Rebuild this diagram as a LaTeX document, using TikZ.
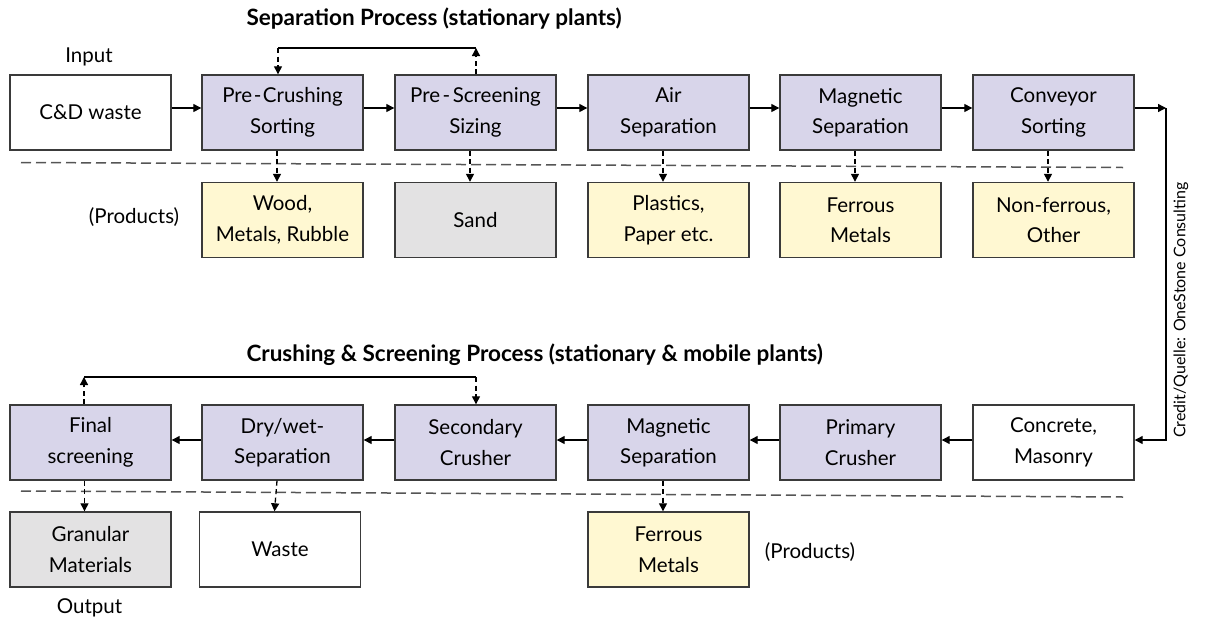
\documentclass[tikz,border=0pt]{standalone}
\usepackage{fontspec}
\setmainfont{Lato}
\usetikzlibrary{arrows.meta}
\definecolor{procfill}{HTML}{D8D5EA}
\definecolor{prodfill}{HTML}{FFF8D2}
\definecolor{sandfill}{HTML}{E3E2E3}
\definecolor{boxline}{HTML}{3A3A3A}
\definecolor{sepline}{HTML}{555555}
\begin{document}
\begin{tikzpicture}[x=1pt,y=-1pt,
  box/.style={draw=boxline,line width=1.4pt,minimum width=161pt,minimum height=75pt,
    inner sep=0pt,align=center,font=\fontsize{20.5}{30.5}\selectfont},
  proc/.style={box,fill=procfill},
  prod/.style={box,fill=prodfill},
  grey/.style={box,fill=sandfill},
  plain/.style={box,fill=white},
  tip/.style={-{Triangle[length=8pt,width=8pt]}},
  flow/.style={line width=1.3pt,tip},
  drop/.style={line width=1.3pt,dash pattern=on 5pt off 3.5pt,tip},
  sep/.style={draw=sepline,line width=1.5pt,dash pattern=on 10pt off 5pt},
  lbl/.style={font=\fontsize{20.5}{30}\selectfont},
  ttl/.style={font=\fontsize{22.5}{26}\selectfont\bfseries,anchor=west}]
\useasboundingbox (0,0) rectangle (1205,624);

% headings and side labels
\node[ttl] (t1) at (243,19) {Separation Process (stationary plants)};
\node[ttl] (t2) at (243,355) {Crushing \& Screening Process (stationary \& mobile plants)};
\node[lbl] (inp) at (89,57) {Input};
\node[lbl] (pr1) at (134,217) {(Products)};
\node[lbl] (outp) at (89.5,608) {Output};
\node[lbl] (pr2) at (810,552) {(Products)};
\node[rotate=90,font=\fontsize{16}{18}\selectfont] (cred) at (1181,310) {Credit/Quelle: OneStone Consulting};

% separation process
\node[plain] (cd) at (90.5,112.5) {C\&D waste};
\node[proc] (pc) at (282.5,112.5) {Pre\kern1.5pt-\kern1.5pt Crushing\\Sorting};
\node[proc] (ps) at (475.5,112.5) {Pre\kern2.5pt-\kern2.5pt Screening\\Sizing};
\node[proc] (as) at (668.5,112.5) {Air\\Separation};
\node[proc] (ms) at (860.5,112.5) {Magnetic\\Separation};
\node[proc] (cs) at (1053.5,112.5) {Conveyor\\Sorting};

\node[prod] (wood) at (282.5,220) {Wood,\\Metals, Rubble};
\node[grey] (sand) at (475.5,220) {Sand};
\node[prod] (plas) at (668.5,220) {Plastics,\\Paper etc.};
\node[prod] (fer1) at (860.5,220) {Ferrous\\Metals};
\node[prod] (nonf) at (1053.5,220) {Non-ferrous,\\Other};

% crushing & screening process
\node[proc] (fs) at (90.5,442.5) {Final\\screening};
\node[proc] (dw) at (282.5,442.5) {Dry/wet-\\Separation};
\node[proc] (sc) at (475.5,442.5) {Secondary\\Crusher};
\node[proc] (ms2) at (668.5,442.5) {Magnetic\\Separation};
\node[proc] (pcr) at (860.5,442.5) {Primary\\Crusher};
\node[plain] (cm) at (1053.5,442.5) {Concrete,\\Masonry};

\node[grey] (gran) at (90.5,549.5) {Granular\\Materials};
\node[plain] (waste) at (280,549.5) {Waste};
\node[prod] (fer2) at (668.5,549.5) {Ferrous\\Metals};

% separator lines
\coordinate (s1a) at (21,162.5);
\coordinate (s1b) at (1123,167.5);
\coordinate (s2a) at (21,491);
\coordinate (s2b) at (1123,497);
\draw[sep] (s1a) -- (s1b);
\draw[sep] (s2a) -- (s2b);

% main flow, top row
\foreach \a/\b in {cd/pc,pc/ps,ps/as,as/ms}
  \draw[flow] ([yshift=4.5pt]\a.east) -- ([yshift=4.5pt]\b.west);
\coordinate (turn1) at (1166,108);
\coordinate (turn2) at (1166,440);
\draw[flow] ([yshift=4.5pt]ms.east) -- ([yshift=4.5pt]cs.west);
\draw[flow] ([yshift=4.5pt]cs.east) -- (turn1);
\draw[flow] (turn1) -- (turn2) -- ([yshift=2.5pt]cm.east);

% main flow, bottom row
\foreach \a/\b in {cm/pcr,pcr/ms2,ms2/sc,sc/dw,dw/fs}
  \draw[flow] ([yshift=2.5pt]\a.west) -- ([yshift=2.5pt]\b.east);

% products
\foreach \a/\b in {pc/wood,ps/sand,as/plas,ms/fer1,cs/nonf,dw/waste,ms2/fer2}
  \draw[drop] ([xshift=-5.5pt]\a.south) -- ([xshift=-5.5pt]\b.north);
\draw[drop] ([xshift=-6pt]fs.south) -- ([xshift=-6pt]gran.north);

% recirculation loops
\coordinate (r1a) at (476,48);
\coordinate (r1b) at (278,48);
\draw[drop] (ps.north -| r1a) -- (r1a);
\draw[line width=1.3pt] (r1a) -- (r1b);
\draw[drop] (r1b) -- (pc.north -| r1b);

\coordinate (r2a) at (84,377);
\coordinate (r2b) at (476,377);
\draw[drop] (fs.north -| r2a) -- (r2a);
\draw[line width=1.3pt] (r2a) -- (r2b);
\draw[drop] (r2b) -- (sc.north -| r2b);
\end{tikzpicture}
\end{document}
